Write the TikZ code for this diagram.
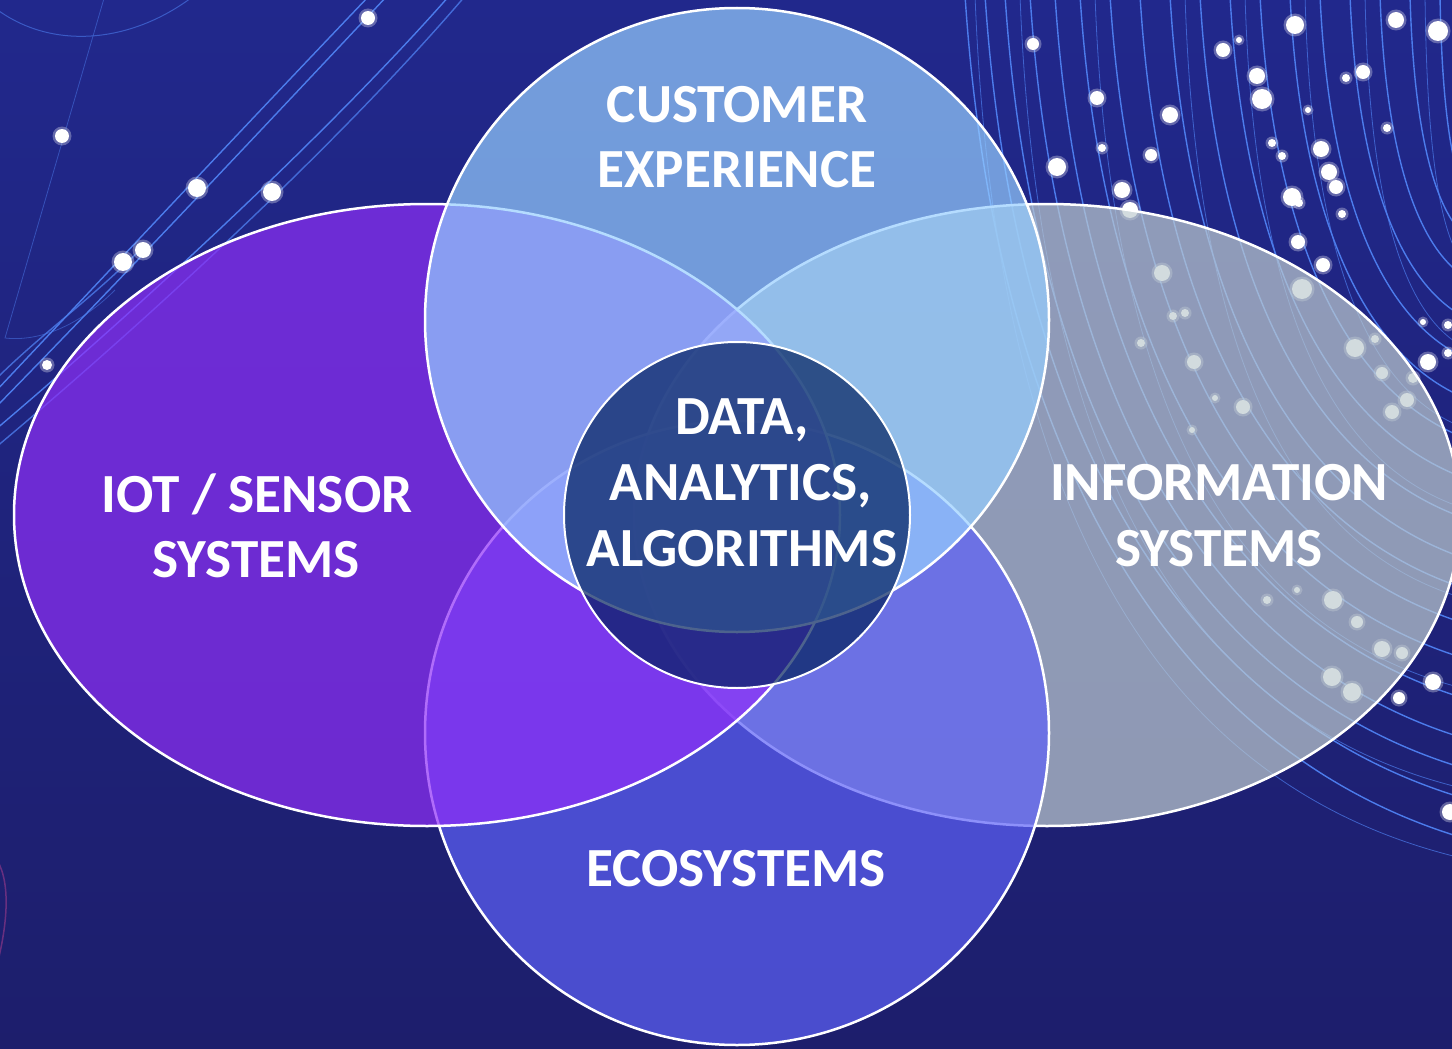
\documentclass[tikz,border=0pt]{standalone}
\usepackage{fontspec}
\setmainfont{Carlito}
\definecolor{bgtop}{HTML}{21288C}
\definecolor{bgbot}{HTML}{1D1E6C}
\definecolor{lineblue}{HTML}{4C7CEC}
\definecolor{magline}{HTML}{9A3A8A}
\definecolor{rcol}{HTML}{BFCDD0}
\definecolor{bcol}{HTML}{5E61F8}
\definecolor{lcol}{HTML}{8F2FF8}
\definecolor{tcol}{HTML}{96CEFF}
\definecolor{ccol}{HTML}{02215E}
\begin{document}
\begin{tikzpicture}[x=1pt,y=-1pt,
  venn/.style={fill opacity=0.7, draw opacity=1, draw=white, line width=2.5pt},
  lab/.style={text=white, font=\bfseries\fontsize{55.2}{66}\selectfont, inner sep=0pt, anchor=base},
  bgline/.style={draw=lineblue, line width=1.4pt},
  spark/.style={fill=white},
  glow/.style={fill=white, opacity=0.3}]
\useasboundingbox (0,0) rectangle (1452,1049);
\shade[top color=bgtop, bottom color=bgbot] (0,0) rectangle (1452,1049);

\begin{scope}
\clip (0,0) rectangle (1452,1049);
% top-left decorations
\draw[bgline, opacity=0.6, line width=1pt] (-5,8) .. controls (50,50) and (130,45) .. (195,-5);
\draw[bgline, opacity=0.5, line width=0.8pt] (105,-5) -- (5,338) .. controls (40,342) and (80,325) .. (115,290);
\draw[bgline] (370,-5) .. controls (260,110) and (110,270) .. (-5,392);
\draw[bgline] (388,-5) .. controls (278,112) and (128,272) .. (-5,408);
\draw[bgline] (450,-5) .. controls (340,120) and (160,290) .. (-5,430);
\draw[bgline, opacity=0.8] (466,-5) .. controls (356,124) and (176,296) .. (-5,448);
\draw[bgline, opacity=0.8] (-5,380) .. controls (40,335) and (90,300) .. (140,250);
% top-right bundle
\foreach \s/\e in {965/840, 985/800, 1005/770, 1030/740, 1055/700, 1080/660, 1110/625, 1140/590, 1170/560, 1200/520, 1230/480, 1260/440, 1290/400, 1320/360, 1350/320, 1380/280, 1410/240, 1440/200}
  \draw[bgline] (\s,-5) .. controls ({\s+0.06*(1470-\s)},{0.55*\e}) and ({\s+0.42*(1470-\s)},{0.9*\e}) .. (1470,\e);
\foreach \s/\e in {975/860, 1020/790, 1095/690, 1185/600, 1245/510, 1305/430, 1365/350, 1425/270}
  \draw[bgline, line width=0.8pt, opacity=0.7] (\s,-5) .. controls ({\s+0.04*(1470-\s)},{0.6*\e}) and ({\s+0.38*(1470-\s)},{0.92*\e}) .. (1470,\e);
% bottom-left squiggle
\draw[draw=magline, line width=1.5pt, opacity=0.6] (-3,860) .. controls (12,885) and (6,930) .. (-3,965);
% sparks
\foreach \x/\y/\r in {368/18/7, 62/136/7, 197/188/9, 272/192/9, 123/262/9, 143/250/8, 47/365/5,
  1033/44/6, 1097/98/7, 1170/115/8, 1102/148/4, 1151/155/6, 1057/167/9, 1122/190/8, 1130/210/8,
  1223/50/7, 1239/40/3, 1257/76/8, 1262/99/10, 1272/143/4, 1282/156/4, 1295/25/9, 1308/110/3,
  1321/149/8, 1329/172/8, 1336/187/7, 1292/197/9, 1299/203/4, 1342/214/4, 1298/242/7, 1323/265/7,
  1346/78/4, 1363/72/7, 1387/128/4, 1396/20/8, 1438/31/10, 1423/322/3, 1428/362/8, 1448/325/4, 1448/353/4,
  1162/273/8, 1302/289/10, 1173/316/4, 1185/313/4, 1141/343/4, 1194/362/7, 1355/348/9, 1375/339/4,
  1382/373/6, 1413/378/5, 1407/400/7, 1392/412/7, 1243/407/7, 1215/398/3, 1192/430/3,
  1333/600/9, 1357/622/6, 1382/649/8, 1402/653/6, 1332/677/9, 1352/692/9, 1297/590/3, 1267/600/4,
  1433/682/8, 1399/698/6, 1450/812/8}
  {\fill[glow] (\x,\y) circle[radius=\r pt+2.5pt];
   \fill[spark] (\x,\y) circle[radius=\r pt];}
\end{scope}

% Venn shapes (bottom to top)
\path[venn, fill=rcol] (1047,515) ellipse[x radius=413pt, y radius=311pt];
\path[venn, fill=bcol] (737,733) circle[radius=312pt];
\path[venn, fill=lcol] (427,515) ellipse[x radius=413pt, y radius=311pt];
\path[venn, fill=tcol] (737,320) circle[radius=312pt];
\path[fill=ccol, fill opacity=0.7, draw=white, draw opacity=1, line width=2pt] (737,515) circle[radius=173pt];

% labels
\node[lab] (cx1) at (737,122) {CUSTOMER};
\node[lab] (cx2) at (737,187) {EXPERIENCE};
\node[lab] (io1) at (257,512) {IOT / SENSOR};
\node[lab] (io2) at (256,577) {SYSTEMS};
\node[lab] (is1) at (1219,500) {INFORMATION};
\node[lab] (is2) at (1219,566) {SYSTEMS};
\node[lab] (ec1) at (736,886) {ECOSYSTEMS};
\node[lab] (da1) at (742,434) {DATA,};
\node[lab] (da2) at (741,500) {ANALYTICS,};
\node[lab] (da3) at (742,566) {ALGORITHMS};
\end{tikzpicture}
\end{document}
